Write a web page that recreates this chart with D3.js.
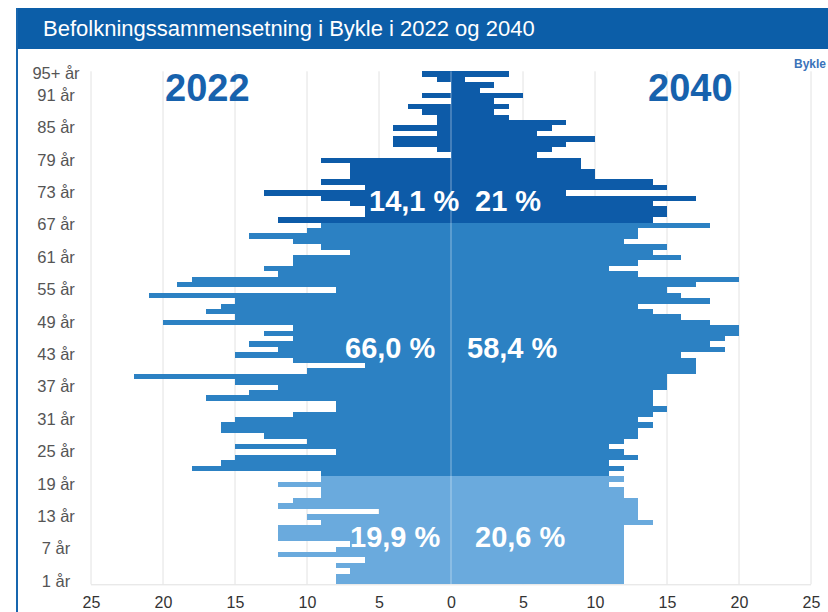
<!DOCTYPE html>
<html>
<head>
<meta charset="utf-8">
<script src="https://cdn.jsdelivr.net/npm/d3@7"></script>
<style>
  body { margin: 0; background: #fff; }
  svg { display: block; font-family: "Liberation Sans", Arial, sans-serif; }
</style>
</head>
<body>
<svg id="chart" width="828" height="612"></svg>
<script>
"use strict"

// rows from bottom (1 år) to top (95+ år)
const ages = d3.range(1, 95).map(a => a + " år").concat(["95+ år"])
const tickAges = ["1 år", "7 år", "13 år", "19 år", "25 år", "31 år", "37 år", "43 år", "49 år",
    "55 år", "61 år", "67 år", "73 år", "79 år", "85 år", "91 år", "95+ år"]

const pop2022 = [8, 8, 7, 8, 6, 12, 8, 7, 12, 12, 12, 9, 10, 5, 12, 11, 9, 9, 12, 9,
    9, 18, 16, 15, 8, 15, 10, 13, 16, 16, 15, 11, 8, 8, 17, 14, 12, 15, 22, 10,
    6, 11, 15, 12, 14, 11, 13, 11, 20, 15, 17, 16, 15, 21, 8, 19, 18, 12, 13, 11,
    11, 7, 9, 11, 14, 10, 9, 12, 6, 6, 7, 9, 13, 6, 9, 7, 7, 7, 9, 0,
    1, 4, 4, 1, 4, 1, 1, 2, 3, 0, 2, 0, 0, 1, 2]

const pop2040 = [12, 12, 12, 12, 12, 12, 12, 12, 12, 12, 12, 14, 13, 13, 13, 13, 12, 12, 11, 12,
    11, 12, 11, 13, 12, 11, 12, 13, 13, 14, 13, 14, 15, 14, 14, 14, 15, 15, 15, 17,
    17, 17, 16, 19, 18, 19, 20, 20, 18, 16, 14, 13, 18, 16, 15, 17, 20, 13, 11, 13,
    16, 14, 15, 12, 13, 13, 18, 14, 15, 15, 14, 17, 8, 15, 14, 10, 10, 9, 9, 6,
    7, 8, 10, 6, 7, 8, 4, 3, 4, 3, 5, 2, 3, 1, 4]

// age groups: first row of each group
const groupStart = ["1 år", "21 år", "68 år"]
const share2022 = ["19,9 %", "66,0 %", "14,1 %"]
const share2040 = ["20,6 %", "58,4 %", "21 %"]
const xTicks = [-25, -20, -15, -10, -5, 0, 5, 10, 15, 20, 25]

const groupColors = ["#6aaadd", "#2c81c3", "#0d5ba8"]

const svg = d3.select("#chart")
const plotTop = 71.3, plotBottom = 584.3, plotLeft = 91, plotRight = 811

const x = d3.scaleLinear().domain([-25, 25]).range([plotLeft, plotRight])
const y = d3.scaleBand().domain(ages).range([plotBottom, plotTop]).padding(0)

const groupOf = i => {
    let g = 0
    groupStart.forEach((a, k) => { if (i >= ages.indexOf(a)) g = k })
    return g
}

// header
svg.append("rect")
    .attr("x", 16).attr("y", 8).attr("width", 812).attr("height", 41)
    .attr("fill", "#0c5ea8")
svg.append("rect")
    .attr("x", 16).attr("y", 8).attr("width", 2).attr("height", 604)
    .attr("fill", "#1766ae")
svg.append("text")
    .attr("x", 43).attr("y", 36)
    .attr("fill", "#fff")
    .style("font-size", "22px")
    .text("Befolkningssammensetning i Bykle i 2022 og 2040")

// grid
svg.append("g")
    .selectAll("line")
    .data(xTicks.filter(d => d !== 0))
    .join("line")
    .attr("x1", d => x(d)).attr("x2", d => x(d))
    .attr("y1", plotTop).attr("y2", plotBottom)
    .attr("stroke", "#e2e2e2")
    .attr("stroke-width", 1)

svg.append("line")
    .attr("x1", plotLeft).attr("x2", plotRight)
    .attr("y1", plotBottom + 0.5).attr("y2", plotBottom + 0.5)
    .attr("stroke", "#e0e0e0")

// bars
const bars = svg.append("g").attr("shape-rendering", "crispEdges")

bars.selectAll(".bar2022")
    .data(pop2022)
    .join("rect")
    .attr("class", "bar2022")
    .attr("x", d => x(-d))
    .attr("width", d => x(0) - x(-d))
    .attr("y", (d, i) => y(ages[i]))
    .attr("height", y.bandwidth())
    .attr("fill", (d, i) => groupColors[groupOf(i)])

bars.selectAll(".bar2040")
    .data(pop2040)
    .join("rect")
    .attr("class", "bar2040")
    .attr("x", x(0))
    .attr("width", d => x(d) - x(0))
    .attr("y", (d, i) => y(ages[i]))
    .attr("height", y.bandwidth())
    .attr("fill", (d, i) => groupColors[groupOf(i)])

svg.append("line")
    .attr("x1", x(0)).attr("x2", x(0))
    .attr("y1", plotTop).attr("y2", plotBottom)
    .attr("stroke", "rgba(255,255,255,0.45)")

// share labels
const labelX2022 = [350, 345, 369]
const labelX2040 = [475, 467, 475]
const labelY = [547, 358, 211]

svg.append("g")
    .selectAll("text")
    .data(share2022.concat(share2040))
    .join("text")
    .attr("x", (d, i) => i < 3 ? labelX2022[i] : labelX2040[i - 3])
    .attr("y", (d, i) => labelY[i % 3])
    .attr("fill", "#fff")
    .style("font-size", "29px")
    .style("font-weight", "bold")
    .text(d => d)

// year labels
svg.append("text")
    .attr("x", 165).attr("y", 101)
    .attr("fill", "#1762ad")
    .style("font-size", "38px").style("font-weight", "bold")
    .text("2022")
svg.append("text")
    .attr("x", 648).attr("y", 101)
    .attr("fill", "#1762ad")
    .style("font-size", "38px").style("font-weight", "bold")
    .text("2040")

svg.append("text")
    .attr("x", 794).attr("y", 68)
    .attr("fill", "#3b73b9")
    .style("font-size", "12px").style("font-weight", "bold")
    .text("Bykle")

// axes
const yAxis = d3.axisLeft(y).tickValues(tickAges).tickSize(0).tickPadding(0)
const gy = svg.append("g")
    .attr("transform", "translate(56,0)")
    .call(yAxis)
gy.select(".domain").remove()
gy.selectAll("text")
    .attr("text-anchor", "middle")
    .attr("fill", "#555")
    .style("font-size", "16.5px")
    .style("font-family", "\"Liberation Sans\", Arial, sans-serif")

const xAxis = d3.axisBottom(x).tickValues(xTicks).tickFormat(d => Math.abs(d)).tickSize(0).tickPadding(0)
const gx = svg.append("g")
    .attr("transform", "translate(0,597)")
    .call(xAxis)
gx.select(".domain").remove()
gx.selectAll("text")
    .attr("dy", "0.71em")
    .attr("fill", "#333")
    .style("font-size", "16px")
    .style("font-family", "\"Liberation Sans\", Arial, sans-serif")
</script>
</body>
</html>
